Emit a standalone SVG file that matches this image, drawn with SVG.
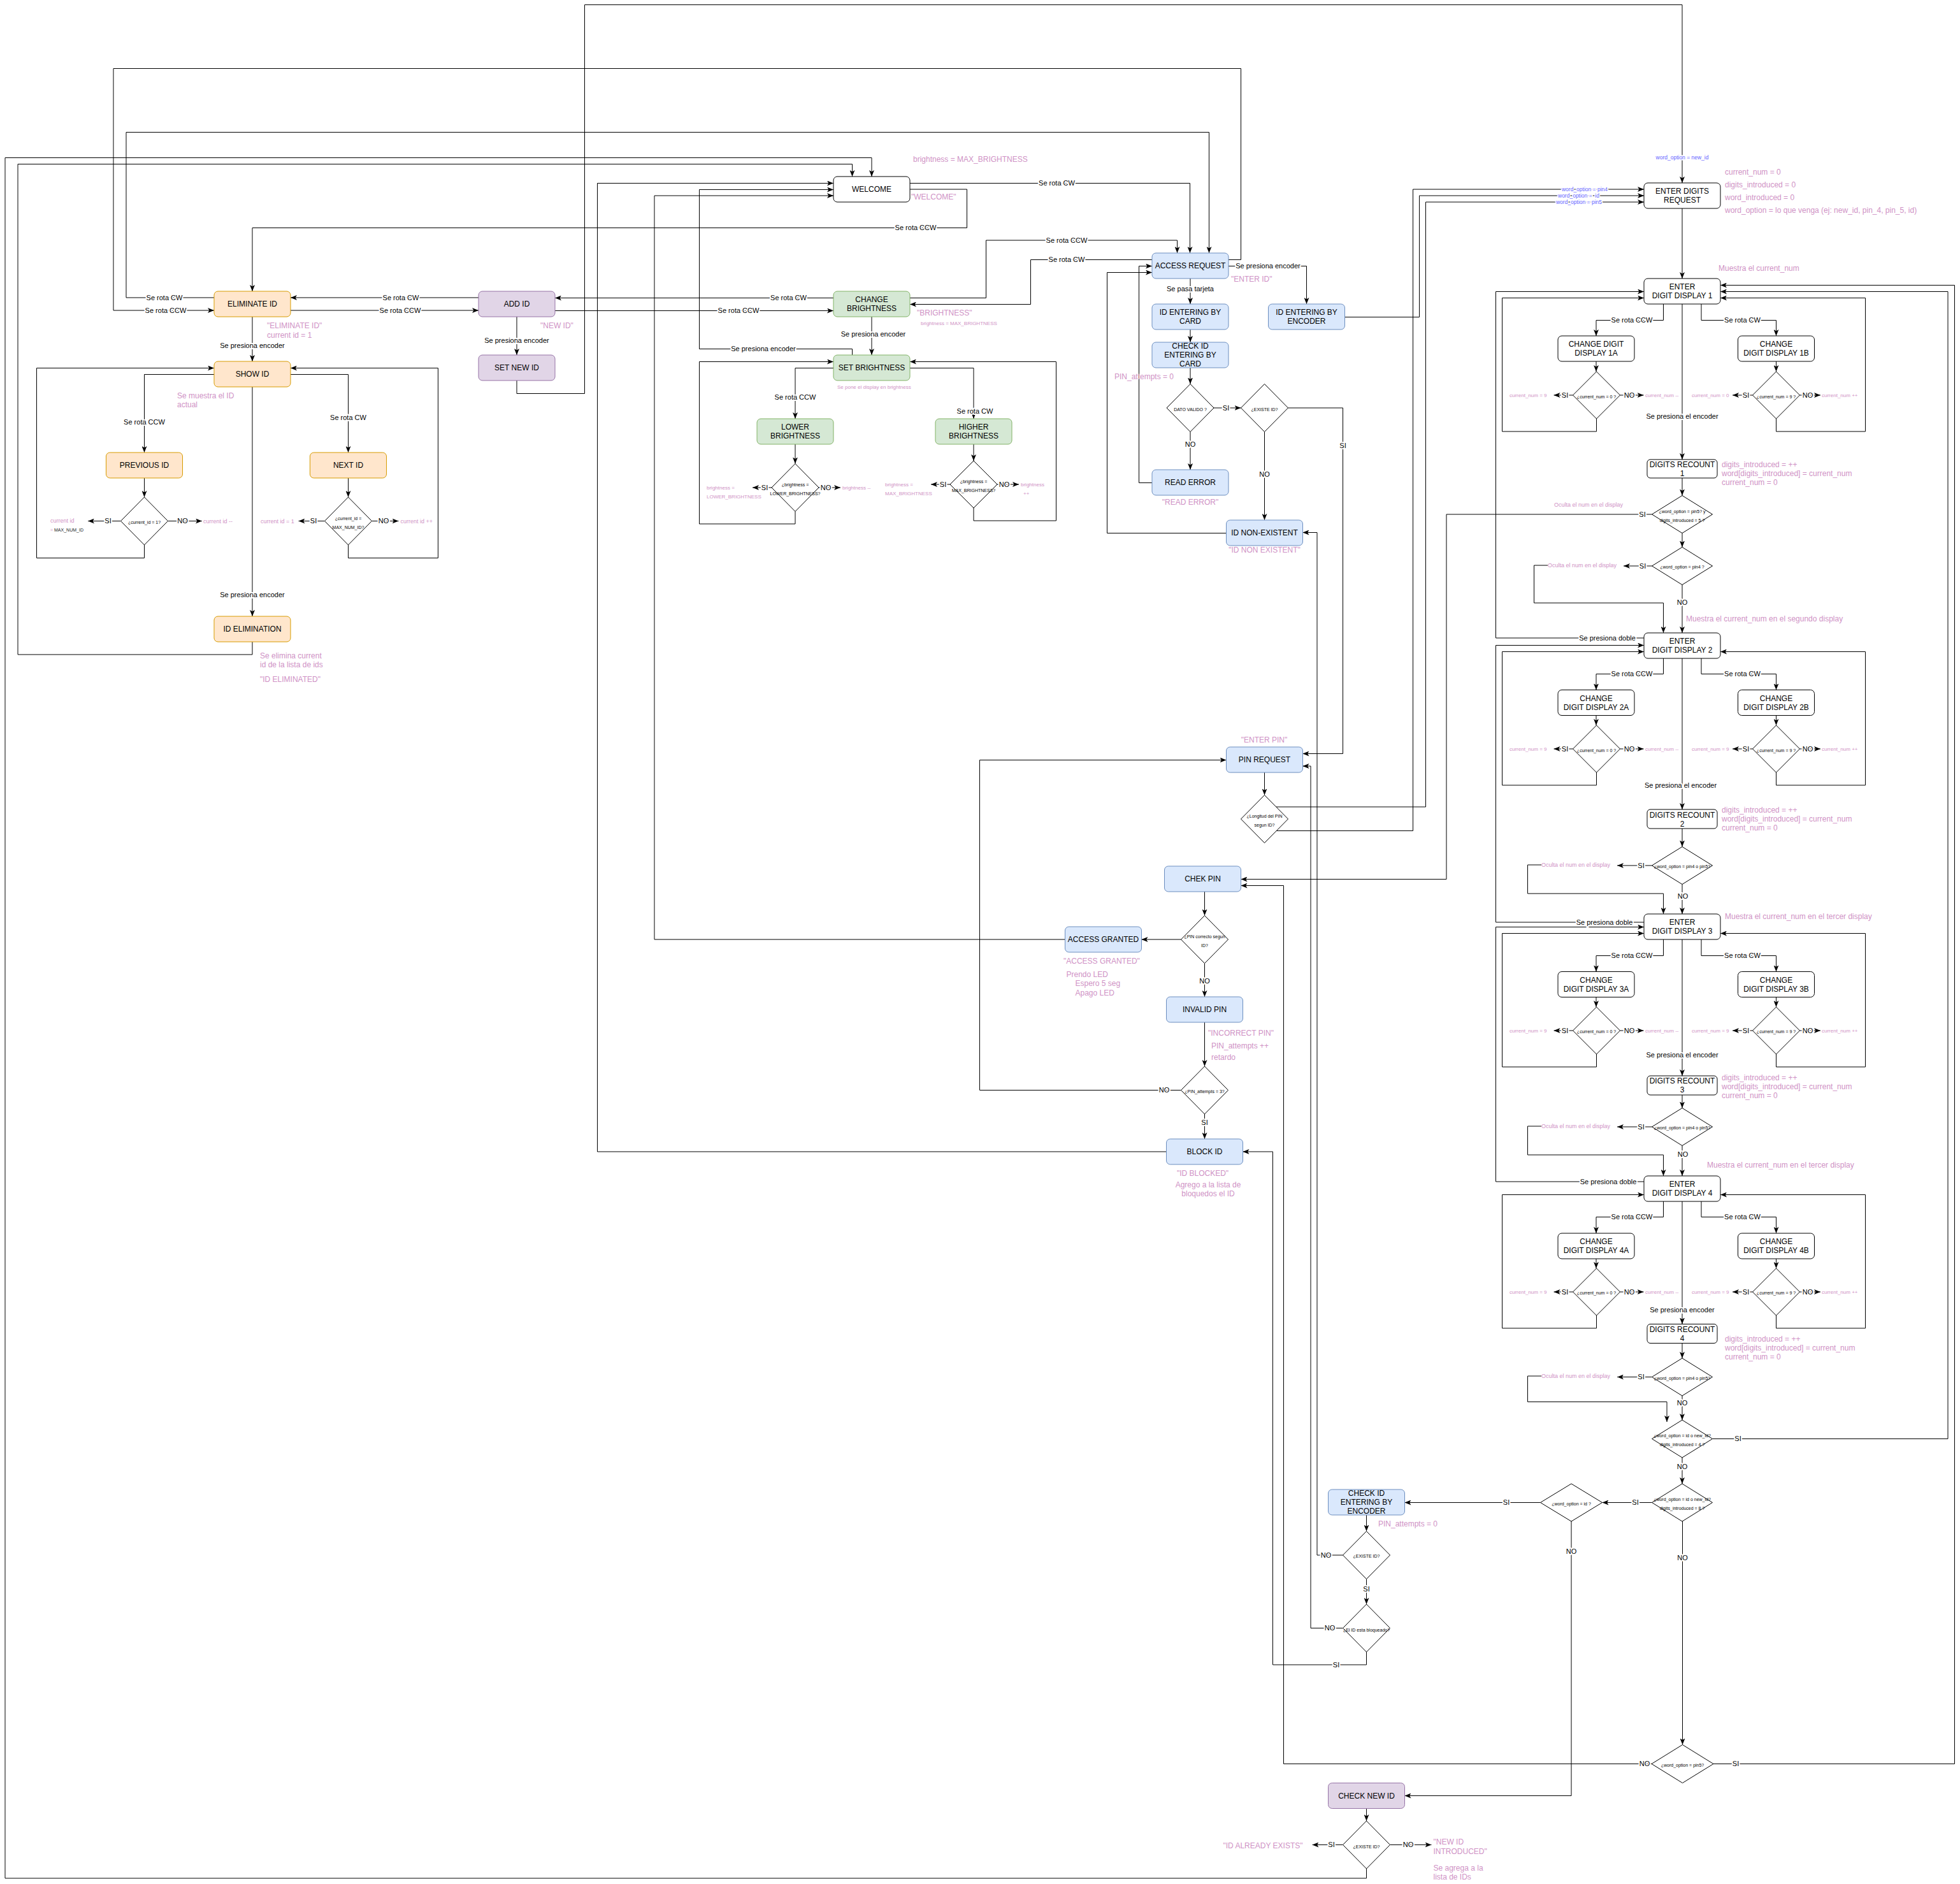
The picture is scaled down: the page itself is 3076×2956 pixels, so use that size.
<svg xmlns="http://www.w3.org/2000/svg" width="3076" height="2956" viewBox="0 0 3076 2956">
<defs>
<marker id="ar" viewBox="0 0 10 8" refX="10" refY="4" markerWidth="10" markerHeight="8" markerUnits="userSpaceOnUse" orient="auto"><path d="M0,0 L10,4 L0,8 L2.5,4 z" fill="#000"/></marker>
</defs>
<style>
text{font-family:"Liberation Sans",Arial,Helvetica,sans-serif}
.o{fill:#ffe6cc;stroke:#d79b00}
.p{fill:#e1d5e7;stroke:#9673a6}
.g{fill:#d5e8d4;stroke:#82b366}
.b{fill:#dae8fc;stroke:#6c8ebf}
.w{fill:#fff;stroke:#000}
.dm{fill:#fff;stroke:#000}
.t{font-size:12px;text-anchor:middle;fill:#000}
.q{font-size:7px;text-anchor:middle;fill:#000}
.l{font-size:11px;text-anchor:middle;fill:#000;stroke:#fff;stroke-width:4px;paint-order:stroke;stroke-linejoin:round}
.k{font-size:12px;fill:#CF92C5}
.k9{font-size:9px}
.k8{font-size:8px}
.k7{font-size:7px}
.m{text-anchor:middle}
.u{font-size:8.5px;fill:#6464FF;text-anchor:middle;stroke:#fff;stroke-width:3px;paint-order:stroke}
#edges path{fill:none;stroke:#000;stroke-width:1}
#edges path.a{marker-end:url(#ar)}
</style>
<rect x="0" y="0" width="3076" height="2956" fill="#fff"/>

<g id="edges">
<path class="a" d="M336,467 H198 V207.5 H1897.5 V397"/>
<path class="a" d="M1928,407.5 H1947.5 V107.5 H178 V487 H336"/>
<path class="a" d="M751,467 H456"/>
<path class="a" d="M456,487 H751"/>
<path class="a" d="M1308,467.5 H871"/>
<path class="a" d="M871,487.5 H1308"/>
<path class="a" d="M1428,467.5 H1547.5 V377 H1847.5 V397"/>
<path class="a" d="M1808,407.5 H1617.5 V477.5 H1428"/>
<path class="a" d="M1428,287.5 H1867.5 V397"/>
<path class="a" d="M1428,297 H1517.5 V357.5 H396 V457"/>
<path class="a" d="M396,497 V567"/>
<path class="a" d="M336,587.5 H226.5 V710"/>
<path class="a" d="M456,587.5 H546.5 V710"/>
<path class="a" d="M226.5,750 V780"/>
<path class="a" d="M546.5,750 V780"/>
<path class="a" d="M189.5,817.5 H138"/>
<path class="a" d="M263.5,817.5 H317"/>
<path class="a" d="M226.5,855 V875.5 H57.5 V577.5 H336"/>
<path class="a" d="M509.5,817.5 H468.5"/>
<path class="a" d="M583.5,817.5 H625.5"/>
<path class="a" d="M546.5,855 V875.5 H687.5 V577.5 H456"/>
<path class="a" d="M396,607 V967"/>
<path class="a" d="M396,1007 V1027 H28 V257.5 H1337.5 V277"/>
<path class="a" d="M2144.5,2932 V2947 H8 V247.5 H1368 V277"/>
<path class="a" d="M811,497 V557"/>
<path class="a" d="M811,597 V617.5 H917.5 V7.5 H2640 V287"/>
<path class="a" d="M1368,497 V557"/>
<path class="a" d="M1337.5,557 V547.5 H1097.5 V297.5 H1308"/>
<path class="a" d="M1830.5,1807 H937.5 V287.5 H1308"/>
<path class="a" d="M1671.5,1474 H1027 V307 H1308"/>
<path class="a" d="M1308,577.5 H1248 V657"/>
<path class="a" d="M1428,577.5 H1528 V657"/>
<path class="a" d="M1248,697 V727.5"/>
<path class="a" d="M1528,697 V723"/>
<path class="a" d="M1211,765 H1181"/>
<path class="a" d="M1285,765 H1319"/>
<path class="a" d="M1248,802.5 V822 H1097.5 V567.5 H1308"/>
<path class="a" d="M1491,760 H1461"/>
<path class="a" d="M1565,760 H1599"/>
<path class="a" d="M1528,797 V817 H1657.5 V567.5 H1428"/>
<path class="a" d="M1928,417.5 H2050.5 V477"/>
<path class="a" d="M1868,437 V477"/>
<path class="a" d="M1868,517 V537"/>
<path class="a" d="M1868,577 V602.5"/>
<path class="a" d="M1905,640 H1947.5"/>
<path class="a" d="M1868,677.5 V737"/>
<path class="a" d="M1808,757.5 H1787.5 V417.5 H1808"/>
<path class="a" d="M1984.5,677.5 V816"/>
<path class="a" d="M1924.5,836.5 H1737.5 V427.5 H1808"/>
<path class="a" d="M2021.5,640 H2107.5 V1182.5 H2044.5"/>
<path class="a" d="M2110.5,497.5 H2227.5 V307 H2580"/>
<path class="a" d="M2002.5,1266 H2237.5 V317 H2580"/>
<path class="a" d="M2003,1303.5 H2217.5 V297 H2580"/>
<path class="a" d="M1984.5,1212 V1247.5"/>
<path class="a" d="M2592.5,807 H2270 V1379.5 H1947.5"/>
<path class="a" d="M2592,2767.5 H2014.5 V1389.5 H1947.5"/>
<path class="a" d="M1890.5,1399 V1436.5"/>
<path class="a" d="M1853.5,1474 H1791.5"/>
<path class="a" d="M1890.5,1511.5 V1564"/>
<path class="a" d="M1890.5,1604 V1673"/>
<path class="a" d="M1853.5,1710.5 H1537.5 V1192.5 H1924.5"/>
<path class="a" d="M1890.5,1748 V1787"/>
<path class="a" d="M2107.5,2440 H2067 V835.5 H2044.5"/>
<path class="a" d="M2107.5,2554.5 H2057 V1202 H2044.5"/>
<path class="a" d="M2144.5,2592 V2612 H1997.5 V1807 H1950.5"/>
<path class="a" d="M2144.5,2377 V2402.5"/>
<path class="a" d="M2144.5,2477.5 V2517"/>
<path class="a" d="M2417.5,2357.5 H2204.5"/>
<path class="a" d="M2466,2387 V2817.5 H2204.5"/>
<path class="a" d="M2144.5,2837.5 V2857"/>
<path class="a" d="M2107.5,2894.5 H2059.5"/>
<path class="a" d="M2181.5,2894.5 H2246.5"/>
<path class="a" d="M2640,327 V437"/>
<path class="a" d="M2610.5,477 V502.5 H2505 V527"/>
<path class="a" d="M2670,477 V502.5 H2787.5 V527"/>
<path class="a" d="M2505,567 V583"/>
<path class="a" d="M2787.5,567 V583"/>
<path class="a" d="M2468.5,620 H2438.5"/>
<path class="a" d="M2542.5,620 H2579.5"/>
<path class="a" d="M2505.5,657 V677 H2357.5 V467.5 H2580"/>
<path class="a" d="M2750.5,620 H2719"/>
<path class="a" d="M2824.5,620 H2857"/>
<path class="a" d="M2787.5,657 V677 H2927.5 V467.5 H2700"/>
<path class="a" d="M2640,477 V721"/>
<path class="a" d="M2640,750 V777.5"/>
<path class="a" d="M2640,836.5 V858.5"/>
<path class="a" d="M2592.5,888 H2548"/>
<path class="a" d="M2429,887 H2407.5 V946 H2610.5 V993"/>
<path class="a" d="M2640,917.5 V993"/>
<path class="a" d="M2580,1001 H2347.5 V457.5 H2580"/>
<path class="a" d="M2610.5,1033 V1057.5 H2505 V1082.5"/>
<path class="a" d="M2670,1033 V1057.5 H2787.5 V1082.5"/>
<path class="a" d="M2505,1122.5 V1138"/>
<path class="a" d="M2787.5,1122.5 V1138"/>
<path class="a" d="M2468.5,1175 H2438.5"/>
<path class="a" d="M2542.5,1175 H2579.5"/>
<path class="a" d="M2750.5,1175 H2719"/>
<path class="a" d="M2824.5,1175 H2857"/>
<path class="a" d="M2505.5,1212 V1232 H2357.5 V1022.5 H2580"/>
<path class="a" d="M2787.5,1212 V1232 H2927.5 V1022.5 H2700"/>
<path class="a" d="M2640,1033 V1270"/>
<path class="a" d="M2640,1300 V1328.5"/>
<path class="a" d="M2592.5,1358 H2538"/>
<path class="a" d="M2419,1357 H2397.5 V1402 H2610.5 V1434"/>
<path class="a" d="M2640,1387.5 V1434"/>
<path class="a" d="M2580,1447 H2347.5 V1012.5 H2580"/>
<path class="a" d="M2610.5,1474 V1499.5 H2505 V1524.5"/>
<path class="a" d="M2670,1474 V1499.5 H2787.5 V1524.5"/>
<path class="a" d="M2505,1564.5 V1580"/>
<path class="a" d="M2787.5,1564.5 V1580"/>
<path class="a" d="M2468.5,1617 H2438.5"/>
<path class="a" d="M2542.5,1617 H2579.5"/>
<path class="a" d="M2750.5,1617 H2719"/>
<path class="a" d="M2824.5,1617 H2857"/>
<path class="a" d="M2505.5,1654 V1674 H2357.5 V1464.5 H2580"/>
<path class="a" d="M2787.5,1654 V1674 H2927.5 V1464.5 H2700"/>
<path class="a" d="M2640,1474 V1688"/>
<path class="a" d="M2640,1718 V1738.5"/>
<path class="a" d="M2592.5,1768 H2538"/>
<path class="a" d="M2419,1767 H2397.5 V1812 H2610.5 V1845"/>
<path class="a" d="M2640,1797.5 V1845"/>
<path class="a" d="M2580,1854 H2347.5 V1454.5 H2580"/>
<path class="a" d="M2610.5,1885 V1909.5 H2505 V1935"/>
<path class="a" d="M2670,1885 V1909.5 H2787.5 V1935"/>
<path class="a" d="M2505,1975 V1990"/>
<path class="a" d="M2787.5,1975 V1990"/>
<path class="a" d="M2468.5,2027 H2438.5"/>
<path class="a" d="M2542.5,2027 H2579.5"/>
<path class="a" d="M2750.5,2027 H2719"/>
<path class="a" d="M2824.5,2027 H2857"/>
<path class="a" d="M2505.5,2064 V2084 H2357.5 V1874.5 H2580"/>
<path class="a" d="M2787.5,2064 V2084 H2927.5 V1874.5 H2700"/>
<path class="a" d="M2640,1885 V2077.5"/>
<path class="a" d="M2640,2107.5 V2131"/>
<path class="a" d="M2592.5,2160.5 H2538"/>
<path class="a" d="M2419,2159 H2397.5 V2199.5 H2616 V2231"/>
<path class="a" d="M2640,2190 V2228"/>
<path class="a" d="M2687.5,2257.5 H3057 V457.5 H2700"/>
<path class="a" d="M2640,2287 V2328"/>
<path class="a" d="M2592.5,2357.5 H2514.5"/>
<path class="a" d="M2640.5,2387 V2737.5"/>
<path class="a" d="M2689,2767.5 H3067.5 V447.5 H2700"/>
</g>

<g id="edge-labels">
<text class="l" x="258" y="470.9">Se rota CW</text>
<text class="l" x="260" y="490.9">Se rota CCW</text>
<text class="l" x="629" y="470.9">Se rota CW</text>
<text class="l" x="628" y="490.9">Se rota CCW</text>
<text class="l" x="1237.5" y="471.4">Se rota CW</text>
<text class="l" x="1159" y="491.4">Se rota CCW</text>
<text class="l" x="1674" y="381">Se rota CCW</text>
<text class="l" x="1674" y="411.4">Se rota CW</text>
<text class="l" x="1658.5" y="291.4">Se rota CW</text>
<text class="l" x="1437" y="361.4">Se rota CCW</text>
<text class="l" x="396" y="545.9">Se presiona encoder</text>
<text class="l" x="226.5" y="665.9">Se rota CCW</text>
<text class="l" x="546.5" y="658.9">Se rota CW</text>
<text class="l" x="169.5" y="821.4">SI</text>
<text class="l" x="286.5" y="821.4">NO</text>
<text class="l" x="492" y="821.4">SI</text>
<text class="l" x="602" y="821.4">NO</text>
<text class="l" x="396" y="936.9">Se presiona encoder</text>
<text class="l" x="811" y="537.9">Se presiona encoder</text>
<text class="l" x="1370.5" y="528.4">Se presiona encoder</text>
<text class="l" x="1198" y="551.4">Se presiona encoder</text>
<text class="l" x="1248" y="626.9">Se rota CCW</text>
<text class="l" x="1530" y="648.9">Se rota CW</text>
<text class="l" x="1200" y="768.9">SI</text>
<text class="l" x="1296" y="768.9">NO</text>
<text class="l" x="1480" y="763.9">SI</text>
<text class="l" x="1576" y="763.9">NO</text>
<text class="l" x="1990" y="421.4">Se presiona encoder</text>
<text class="l" x="1868" y="456.9">Se pasa tarjeta</text>
<text class="l" x="1924" y="643.9">SI</text>
<text class="l" x="1868" y="700.9">NO</text>
<text class="l" x="1984.5" y="747.9">NO</text>
<text class="l" x="2107.5" y="702.9">SI</text>
<text class="l" x="2577.5" y="810.9">SI</text>
<text class="l" x="2581" y="2771.4">NO</text>
<text class="l" x="1890.5" y="1542.9">NO</text>
<text class="l" x="1827" y="1714.4">NO</text>
<text class="l" x="1890.5" y="1764.9">SI</text>
<text class="l" x="2081" y="2443.9">NO</text>
<text class="l" x="2087" y="2558.4">NO</text>
<text class="l" x="2097" y="2615.9">SI</text>
<text class="l" x="2144.5" y="2496.9">SI</text>
<text class="l" x="2364" y="2361.4">SI</text>
<text class="l" x="2466" y="2437.9">NO</text>
<text class="l" x="2089.5" y="2898.4">SI</text>
<text class="l" x="2210" y="2898.4">NO</text>
<text class="l" x="2561" y="506.4">Se rota CCW</text>
<text class="l" x="2734.5" y="506.4">Se rota CW</text>
<text class="l" x="2456" y="623.9">SI</text>
<text class="l" x="2557" y="623.9">NO</text>
<text class="l" x="2740" y="623.9">SI</text>
<text class="l" x="2837" y="623.9">NO</text>
<text class="l" x="2640" y="656.9">Se presiona el encoder</text>
<text class="l" x="2578" y="891.9">SI</text>
<text class="l" x="2640" y="949.4">NO</text>
<text class="l" x="2522.5" y="1004.9">Se presiona doble</text>
<text class="l" x="2561" y="1061.4">Se rota CCW</text>
<text class="l" x="2734.5" y="1061.4">Se rota CW</text>
<text class="l" x="2456" y="1178.9">SI</text>
<text class="l" x="2557" y="1178.9">NO</text>
<text class="l" x="2740" y="1178.9">SI</text>
<text class="l" x="2837" y="1178.9">NO</text>
<text class="l" x="2637.5" y="1235.9">Se presiona el encoder</text>
<text class="l" x="2575.5" y="1361.9">SI</text>
<text class="l" x="2641" y="1409.9">NO</text>
<text class="l" x="2518" y="1450.9">Se presiona doble</text>
<text class="l" x="2561" y="1503.4">Se rota CCW</text>
<text class="l" x="2734.5" y="1503.4">Se rota CW</text>
<text class="l" x="2456" y="1620.9">SI</text>
<text class="l" x="2557" y="1620.9">NO</text>
<text class="l" x="2740" y="1620.9">SI</text>
<text class="l" x="2837" y="1620.9">NO</text>
<text class="l" x="2640" y="1658.9">Se presiona el encoder</text>
<text class="l" x="2575.5" y="1771.9">SI</text>
<text class="l" x="2641" y="1814.7">NO</text>
<text class="l" x="2524" y="1857.9">Se presiona doble</text>
<text class="l" x="2561" y="1913.4">Se rota CCW</text>
<text class="l" x="2734.5" y="1913.4">Se rota CW</text>
<text class="l" x="2456" y="2030.9">SI</text>
<text class="l" x="2557" y="2030.9">NO</text>
<text class="l" x="2740" y="2030.9">SI</text>
<text class="l" x="2837" y="2030.9">NO</text>
<text class="l" x="2640" y="2058.9">Se presiona encoder</text>
<text class="l" x="2575.5" y="2164.4">SI</text>
<text class="l" x="2640" y="2204.9">NO</text>
<text class="l" x="2727.5" y="2261.4">SI</text>
<text class="l" x="2640" y="2304.9">NO</text>
<text class="l" x="2566.5" y="2361.4">SI</text>
<text class="l" x="2640.5" y="2447.9">NO</text>
<text class="l" x="2724" y="2771.4">SI</text>
<text class="u" x="2640" y="249.5">word_option = new_id</text>
<text class="u" x="2487" y="300">word_option = pin4</text>
<text class="u" x="2477.5" y="310" xml:space="preserve">word_option =  id</text>
<text class="u" x="2478" y="320">word_option = pin5</text>
</g>

<g id="n-eliminate-id"><rect class="o" x="336" y="457" width="120" height="40" rx="6"/><text class="t" x="396" y="481.2">ELIMINATE ID</text></g>
<g id="n-show-id"><rect class="o" x="336" y="567" width="120" height="40" rx="6"/><text class="t" x="396" y="591.2">SHOW ID</text></g>
<g id="n-previous-id"><rect class="o" x="166.5" y="710" width="120" height="40" rx="6"/><text class="t" x="226.5" y="734.2">PREVIOUS ID</text></g>
<g id="n-next-id"><rect class="o" x="486.5" y="710" width="120" height="40" rx="6"/><text class="t" x="546.5" y="734.2">NEXT ID</text></g>
<g id="n-id-elimination"><rect class="o" x="336" y="967" width="120" height="40" rx="6"/><text class="t" x="396" y="991.2">ID ELIMINATION</text></g>
<g id="d-prev"><polygon class="dm" points="226.5,780 263.5,817.5 226.5,855 189.5,817.5"/><text class="q" x="226.5" y="821.5">¿current_id = 1?</text></g>
<g id="d-next"><polygon class="dm" points="546.5,780 583.5,817.5 546.5,855 509.5,817.5"/><text class="q" x="546.5" y="815.5">¿current_id =</text><text class="q" x="546.5" y="829.5">MAX_NUM_ID?</text></g>
<g id="n-add-id"><rect class="p" x="751" y="457" width="120" height="40" rx="6"/><text class="t" x="811" y="481.2">ADD ID</text></g>
<g id="n-set-new-id"><rect class="p" x="751" y="557" width="120" height="40" rx="6"/><text class="t" x="811" y="581.2">SET NEW ID</text></g>

<g id="n-welcome"><rect class="w" x="1308" y="277" width="120" height="40" rx="6"/><text class="t" x="1368" y="301.2">WELCOME</text></g>
<g id="n-change-brightness"><rect class="g" x="1308" y="457" width="120" height="40" rx="6"/><text class="t" x="1368" y="474.2">CHANGE</text><text class="t" x="1368" y="488.2">BRIGHTNESS</text></g>
<g id="n-set-brightness"><rect class="g" x="1308" y="557" width="120" height="40" rx="6"/><text class="t" x="1368" y="581.2">SET BRIGHTNESS</text></g>
<g id="n-lower-brightness"><rect class="g" x="1188" y="657" width="120" height="40" rx="6"/><text class="t" x="1248" y="674.2">LOWER</text><text class="t" x="1248" y="688.2">BRIGHTNESS</text></g>
<g id="n-higher-brightness"><rect class="g" x="1468" y="657" width="120" height="40" rx="6"/><text class="t" x="1528" y="674.2">HIGHER</text><text class="t" x="1528" y="688.2">BRIGHTNESS</text></g>
<g id="d-low"><polygon class="dm" points="1248,727.5 1285,765 1248,802.5 1211,765"/><text class="q" x="1248" y="763.2">¿brightness =</text><text class="q" x="1248" y="776.6">LOWER_BRIGHTNESS?</text></g>
<g id="d-high"><polygon class="dm" points="1528,723 1565,760 1528,797 1491,760"/><text class="q" x="1528" y="758.3">¿brightness =</text><text class="q" x="1528" y="771.7">MAX_BRIGHTNESS?</text></g>

<g id="n-access-request"><rect class="b" x="1808" y="397" width="120" height="40" rx="6"/><text class="t" x="1868" y="421.2">ACCESS REQUEST</text></g>
<g id="n-id-card"><rect class="b" x="1808" y="477" width="120" height="40" rx="6"/><text class="t" x="1868" y="494.2">ID ENTERING BY</text><text class="t" x="1868" y="508.2">CARD</text></g>
<g id="n-check-id-card"><rect class="b" x="1808" y="537" width="120" height="40" rx="6"/><text class="t" x="1868" y="547.2">CHECK ID</text><text class="t" x="1868" y="561.2">ENTERING BY</text><text class="t" x="1868" y="575.2">CARD</text></g>
<g id="d-valid"><polygon class="dm" points="1868,602.5 1905,640 1868,677.5 1831,640"/><text class="q" x="1868" y="644.5">DATO VALIDO ?</text></g>
<g id="d-exist"><polygon class="dm" points="1984.5,602.5 2021.5,640 1984.5,677.5 1947.5,640"/><text class="q" x="1984.5" y="644.5">¿EXISTE ID?</text></g>
<g id="n-read-error"><rect class="b" x="1808" y="737" width="120" height="40" rx="6"/><text class="t" x="1868" y="761.2">READ ERROR</text></g>
<g id="n-id-non-existent"><rect class="b" x="1924.5" y="816" width="120" height="40" rx="6"/><text class="t" x="1984.5" y="840.2">ID NON-EXISTENT</text></g>
<g id="n-id-encoder"><rect class="b" x="1990.5" y="477" width="120" height="40" rx="6"/><text class="t" x="2050.5" y="494.2">ID ENTERING BY</text><text class="t" x="2050.5" y="508.2">ENCODER</text></g>
<g id="n-pin-request"><rect class="b" x="1924.5" y="1172" width="120" height="40" rx="6"/><text class="t" x="1984.5" y="1196.2">PIN REQUEST</text></g>
<g id="d-len"><polygon class="dm" points="1984.5,1247.5 2021.5,1285 1984.5,1322.5 1947.5,1285"/><text class="q" x="1984.5" y="1282.7">¿Longitud del PIN</text><text class="q" x="1984.5" y="1297">segun ID?</text></g>
<g id="n-chek-pin"><rect class="b" x="1827.5" y="1359" width="120" height="40" rx="6"/><text class="t" x="1887.5" y="1383.2">CHEK PIN</text></g>
<g id="d-pin"><polygon class="dm" points="1890.5,1436.5 1927.5,1474 1890.5,1511.5 1853.5,1474"/><text class="q" x="1890.5" y="1472">¿PIN correcto segun</text><text class="q" x="1890.5" y="1486">ID?</text></g>
<g id="n-access-granted"><rect class="b" x="1671.5" y="1454" width="120" height="40" rx="6"/><text class="t" x="1731.5" y="1478.2">ACCESS GRANTED</text></g>
<g id="n-invalid-pin"><rect class="b" x="1830.5" y="1564" width="120" height="40" rx="6"/><text class="t" x="1890.5" y="1588.2">INVALID PIN</text></g>
<g id="d-attempts"><polygon class="dm" points="1890.5,1673 1927.5,1710.5 1890.5,1748 1853.5,1710.5"/><text class="q" x="1890.5" y="1714.8">¿PIN_attempts = 3?</text></g>
<g id="n-block-id"><rect class="b" x="1830.5" y="1787" width="120" height="40" rx="6"/><text class="t" x="1890.5" y="1811.2">BLOCK ID</text></g>
<g id="n-check-id-encoder"><rect class="b" x="2084.5" y="2337" width="120" height="40" rx="6"/><text class="t" x="2144.5" y="2347.2">CHECK ID</text><text class="t" x="2144.5" y="2361.2">ENTERING BY</text><text class="t" x="2144.5" y="2375.2">ENCODER</text></g>
<g id="d-exist2"><polygon class="dm" points="2144.5,2402.5 2181.5,2440 2144.5,2477.5 2107.5,2440"/><text class="q" x="2144.5" y="2444">¿EXISTE ID?</text></g>
<g id="d-blocked"><polygon class="dm" points="2144.5,2517 2181.5,2554.5 2144.5,2592 2107.5,2554.5"/><text class="q" x="2144.5" y="2559.8">¿El ID esta bloqueado?</text></g>
<g id="n-check-new-id"><rect class="p" x="2084.5" y="2797.5" width="120" height="40" rx="6"/><text class="t" x="2144.5" y="2821.7">CHECK NEW ID</text></g>
<g id="d-exist3"><polygon class="dm" points="2144.5,2857 2181.5,2894.5 2144.5,2932 2107.5,2894.5"/><text class="q" x="2144.5" y="2900">¿EXISTE ID?</text></g>

<g id="n-enter-digits-request"><rect class="w" x="2580" y="287" width="120" height="40" rx="6"/><text class="t" x="2640" y="304.2">ENTER DIGITS</text><text class="t" x="2640" y="318.2">REQUEST</text></g>
<g id="n-ed1"><rect class="w" x="2580" y="437" width="120" height="40" rx="6"/><text class="t" x="2640" y="454.2">ENTER</text><text class="t" x="2640" y="468.2">DIGIT DISPLAY 1</text></g>
<g id="n-c1a"><rect class="w" x="2445" y="527" width="120" height="40" rx="6"/><text class="t" x="2505" y="544.2">CHANGE DIGIT</text><text class="t" x="2505" y="558.2">DISPLAY 1A</text></g>
<g id="n-c1b"><rect class="w" x="2727.5" y="527" width="120" height="40" rx="6"/><text class="t" x="2787.5" y="544.2">CHANGE</text><text class="t" x="2787.5" y="558.2">DIGIT DISPLAY 1B</text></g>
<g id="d-1a"><polygon class="dm" points="2505.5,583 2542.5,620 2505.5,657 2468.5,620"/><text class="q" x="2505.5" y="624.5">¿current_num = 0 ?</text></g>
<g id="d-1b"><polygon class="dm" points="2787.5,583 2824.5,620 2787.5,657 2750.5,620"/><text class="q" x="2787.5" y="624.5">¿current_num = 9 ?</text></g>
<g id="n-dr1"><rect class="w" x="2585" y="721" width="110" height="29" rx="5"/><text class="t" x="2640" y="732.7">DIGITS RECOUNT</text><text class="t" x="2640" y="746.7">1</text></g>
<g id="d-q1a"><polygon class="dm" points="2640,777.5 2687.5,807 2640,836.5 2592.5,807"/><text class="q" x="2640" y="805">¿word_option = pin5? y</text><text class="q" x="2640" y="819">digits_introduced = 5 ?</text></g>
<g id="d-q1b"><polygon class="dm" points="2640,858.5 2687.5,888 2640,917.5 2592.5,888"/><text class="q" x="2640" y="892">¿word_option = pin4 ?</text></g>

<g id="n-ed2"><rect class="w" x="2580" y="993" width="120" height="40" rx="6"/><text class="t" x="2640" y="1010.2">ENTER</text><text class="t" x="2640" y="1024.2">DIGIT DISPLAY 2</text></g>
<g id="n-c2a"><rect class="w" x="2445" y="1082.5" width="120" height="40" rx="6"/><text class="t" x="2505" y="1099.7">CHANGE</text><text class="t" x="2505" y="1113.7">DIGIT DISPLAY 2A</text></g>
<g id="n-c2b"><rect class="w" x="2727.5" y="1082.5" width="120" height="40" rx="6"/><text class="t" x="2787.5" y="1099.7">CHANGE</text><text class="t" x="2787.5" y="1113.7">DIGIT DISPLAY 2B</text></g>
<g id="d-2a"><polygon class="dm" points="2505.5,1138 2542.5,1175 2505.5,1212 2468.5,1175"/><text class="q" x="2505.5" y="1180">¿current_num = 0 ?</text></g>
<g id="d-2b"><polygon class="dm" points="2787.5,1138 2824.5,1175 2787.5,1212 2750.5,1175"/><text class="q" x="2787.5" y="1180">¿current_num = 9 ?</text></g>
<g id="n-dr2"><rect class="w" x="2585" y="1270" width="110" height="30" rx="5"/><text class="t" x="2640" y="1282.7">DIGITS RECOUNT</text><text class="t" x="2640" y="1297">2</text></g>
<g id="d-q2"><polygon class="dm" points="2640,1328.5 2687.5,1358 2640,1387.5 2592.5,1358"/><text class="q" x="2640" y="1362">¿word_option = pin4 o pin5?</text></g>

<g id="n-ed3"><rect class="w" x="2580" y="1434" width="120" height="40" rx="6"/><text class="t" x="2640" y="1451.2">ENTER</text><text class="t" x="2640" y="1465.2">DIGIT DISPLAY 3</text></g>
<g id="n-c3a"><rect class="w" x="2445" y="1524.5" width="120" height="40" rx="6"/><text class="t" x="2505" y="1541.7">CHANGE</text><text class="t" x="2505" y="1555.7">DIGIT DISPLAY 3A</text></g>
<g id="n-c3b"><rect class="w" x="2727.5" y="1524.5" width="120" height="40" rx="6"/><text class="t" x="2787.5" y="1541.7">CHANGE</text><text class="t" x="2787.5" y="1555.7">DIGIT DISPLAY 3B</text></g>
<g id="d-3a"><polygon class="dm" points="2505.5,1580 2542.5,1617 2505.5,1654 2468.5,1617"/><text class="q" x="2505.5" y="1620.8">¿current_num = 0 ?</text></g>
<g id="d-3b"><polygon class="dm" points="2787.5,1580 2824.5,1617 2787.5,1654 2750.5,1617"/><text class="q" x="2787.5" y="1620.8">¿current_num = 9 ?</text></g>
<g id="n-dr3"><rect class="w" x="2585" y="1688" width="110" height="30" rx="5"/><text class="t" x="2640" y="1700">DIGITS RECOUNT</text><text class="t" x="2640" y="1714.2">3</text></g>
<g id="d-q3"><polygon class="dm" points="2640,1738.5 2687.5,1768 2640,1797.5 2592.5,1768"/><text class="q" x="2640" y="1771.8">¿word_option = pin4 o pin5?</text></g>

<g id="n-ed4"><rect class="w" x="2580" y="1845" width="120" height="40" rx="6"/><text class="t" x="2640" y="1862.2">ENTER</text><text class="t" x="2640" y="1876.2">DIGIT DISPLAY 4</text></g>
<g id="n-c4a"><rect class="w" x="2445" y="1935" width="120" height="40" rx="6"/><text class="t" x="2505" y="1952.2">CHANGE</text><text class="t" x="2505" y="1966.2">DIGIT DISPLAY 4A</text></g>
<g id="n-c4b"><rect class="w" x="2727.5" y="1935" width="120" height="40" rx="6"/><text class="t" x="2787.5" y="1952.2">CHANGE</text><text class="t" x="2787.5" y="1966.2">DIGIT DISPLAY 4B</text></g>
<g id="d-4a"><polygon class="dm" points="2505.5,1990 2542.5,2027 2505.5,2064 2468.5,2027"/><text class="q" x="2505.5" y="2031.2">¿current_num = 0 ?</text></g>
<g id="d-4b"><polygon class="dm" points="2787.5,1990 2824.5,2027 2787.5,2064 2750.5,2027"/><text class="q" x="2787.5" y="2031.2">¿current_num = 9 ?</text></g>
<g id="n-dr4"><rect class="w" x="2585" y="2077.5" width="110" height="30" rx="5"/><text class="t" x="2640" y="2089.6">DIGITS RECOUNT</text><text class="t" x="2640" y="2103.5">4</text></g>
<g id="d-q4"><polygon class="dm" points="2640,2131 2687.5,2160.5 2640,2190 2592.5,2160.5"/><text class="q" x="2640" y="2165">¿word_option = pin4 o pin5?</text></g>
<g id="d-q5"><polygon class="dm" points="2640,2228 2687.5,2257.5 2640,2287 2592.5,2257.5"/><text class="q" x="2640" y="2255">¿word_option = id o new_id?</text><text class="q" x="2640" y="2269">digits_introduced = 4 ?</text></g>
<g id="d-q6"><polygon class="dm" points="2640,2328 2687.5,2357.5 2640,2387 2592.5,2357.5"/><text class="q" x="2640" y="2355">¿word_option = id o new_id?</text><text class="q" x="2640" y="2369">digits_introduced = 8 ?</text></g>
<g id="d-qid"><polygon class="dm" points="2466,2328 2514.5,2357.5 2466,2387 2417.5,2357.5"/><text class="q" x="2466" y="2362">¿word_option = id ?</text></g>
<g id="d-qpin5"><polygon class="dm" points="2640.5,2737.5 2689,2767.5 2640.5,2797.5 2592,2767.5"/><text class="q" x="2640.5" y="2772">¿word_option = pin5?</text></g>

<g id="notes">
<text class="k" x="419" y="514.7">"ELIMINATE ID"</text>
<text class="k" x="419" y="529.7">current id = 1</text>
<text class="k" x="278" y="625">Se muestra el ID</text>
<text class="k" x="278" y="639.2">actual</text>
<text class="k k9" x="79" y="820.2">current id</text>
<text class="k k7" x="79" y="834"><tspan>=</tspan><tspan fill="#222"> MAX_NUM_ID</tspan></text>
<text class="k k9" x="319" y="820.7">current id --</text>
<text class="k k9" x="409" y="821.2">current id = 1</text>
<text class="k k9" x="628.5" y="821.2">current id ++</text>
<text class="k" x="408" y="1033.2">Se elimina current</text>
<text class="k" x="408" y="1047.2">id de la lista de ids</text>
<text class="k" x="408" y="1069.7">"ID ELIMINATED"</text>
<text class="k" x="848" y="514.9">"NEW ID"</text>
<text class="k" x="1433" y="254.2">brightness = MAX_BRIGHTNESS</text>
<text class="k" x="1430" y="313.2">"WELCOME"</text>
<text class="k" x="1439" y="495.2">"BRIGHTNESS"</text>
<text class="k k8" x="1445" y="509.8">brightness = MAX_BRIGHTNESS</text>
<text class="k k8" x="1314" y="609.8">Se pone el display en brightness</text>
<text class="k k8" x="1109" y="767.8">brightness =</text>
<text class="k k8" x="1109" y="781.8">LOWER_BRIGHTNESS</text>
<text class="k k8" x="1322" y="767.8">brightness --</text>
<text class="k k8" x="1389" y="762.8">brightness =</text>
<text class="k k8" x="1389" y="776.8">MAX_BRIGHTNESS</text>
<text class="k k8" x="1602" y="762.8">brightness</text>
<text class="k k8" x="1606" y="776.8">++</text>
<text class="k" x="1932" y="441.7">"ENTER ID"</text>
<text class="k" x="1749" y="595.2">PIN_attempts = 0</text>
<text class="k m" x="1868" y="791.7">"READ ERROR"</text>
<text class="k m" x="1984.5" y="866.7">"ID NON EXISTENT"</text>
<text class="k m" x="1984" y="1164.5">"ENTER PIN"</text>
<text class="k" x="1669" y="1512">"ACCESS GRANTED"</text>
<text class="k" x="1673.5" y="1533">Prendo LED</text>
<text class="k" x="1687.5" y="1547.2">Espero 5 seg</text>
<text class="k" x="1687.5" y="1562">Apago LED</text>
<text class="k" x="1896" y="1624.7">"INCORRECT PIN"</text>
<text class="k" x="1901" y="1645.2">PIN_attempts ++</text>
<text class="k" x="1901" y="1663">retardo</text>
<text class="k m" x="1887.5" y="1844.7">"ID BLOCKED"</text>
<text class="k m" x="1896" y="1863">Agrego a la lista de</text>
<text class="k m" x="1896" y="1876.8">bloquedos el ID</text>
<text class="k" x="2163" y="2395.2">PIN_attempts = 0</text>
<text class="k m" x="1982" y="2899.6">"ID ALREADY EXISTS"</text>
<text class="k" x="2249.5" y="2894.4">"NEW ID</text>
<text class="k" x="2249.5" y="2909.2">INTRODUCED"</text>
<text class="k" x="2249.5" y="2934.7">Se agrega a la</text>
<text class="k" x="2249.5" y="2949">lista de IDs</text>
<text class="k" x="2707" y="274">current_num = 0</text>
<text class="k" x="2707" y="294.2">digits_introduced = 0</text>
<text class="k" x="2707" y="314.2">word_introduced = 0</text>
<text class="k" x="2707" y="334.2">word_option = lo que venga (ej: new_id, pin_4, pin_5, id)</text>
<text class="k" x="2697" y="425.2">Muestra el current_num</text>
<text class="k k8" x="2369" y="622.8">current_num = 9</text>
<text class="k k8" x="2582" y="622.8">current_num --</text>
<text class="k k8" x="2655" y="622.8">current_num = 0</text>
<text class="k k8" x="2859" y="622.8">current_num ++</text>
<text class="k" x="2702" y="732.6">digits_introduced = ++</text>
<text class="k" x="2702" y="746.5">word[digits_introduced] = current_num</text>
<text class="k" x="2702" y="760.9">current_num = 0</text>
<text class="k k9" x="2439" y="795.2">Oculta el num en el display</text>
<text class="k k9" x="2429" y="890.2">Oculta el num en el display</text>
<text class="k" x="2646" y="975.2">Muestra el current_num en el segundo display</text>
<text class="k k8" x="2369" y="1177.8">current_num = 9</text>
<text class="k k8" x="2582" y="1177.8">current_num --</text>
<text class="k k8" x="2655" y="1177.8">current_num = 9</text>
<text class="k k8" x="2859" y="1177.8">current_num ++</text>
<text class="k" x="2702" y="1275">digits_introduced = ++</text>
<text class="k" x="2702" y="1289.2">word[digits_introduced] = current_num</text>
<text class="k" x="2702" y="1303.2">current_num = 0</text>
<text class="k k9" x="2419" y="1360.2">Oculta el num en el display</text>
<text class="k" x="2707" y="1441.7">Muestra el current_num en el tercer display</text>
<text class="k k8" x="2369" y="1619.8">current_num = 9</text>
<text class="k k8" x="2582" y="1619.8">current_num --</text>
<text class="k k8" x="2655" y="1619.8">current_num = 9</text>
<text class="k k8" x="2859" y="1619.8">current_num ++</text>
<text class="k" x="2702" y="1694.9">digits_introduced = ++</text>
<text class="k" x="2702" y="1708.7">word[digits_introduced] = current_num</text>
<text class="k" x="2702" y="1723">current_num = 0</text>
<text class="k k9" x="2419" y="1770.2">Oculta el num en el display</text>
<text class="k" x="2679" y="1832">Muestra el current_num en el tercer display</text>
<text class="k k8" x="2369" y="2029.8">current_num = 9</text>
<text class="k k8" x="2582" y="2029.8">current_num --</text>
<text class="k k8" x="2655" y="2029.8">current_num = 9</text>
<text class="k k8" x="2859" y="2029.8">current_num ++</text>
<text class="k" x="2707" y="2104.5">digits_introduced = ++</text>
<text class="k" x="2707" y="2118.9">word[digits_introduced] = current_num</text>
<text class="k" x="2707" y="2132.9">current_num = 0</text>
<text class="k k9" x="2419" y="2162.2">Oculta el num en el display</text>
</g>
</svg>
